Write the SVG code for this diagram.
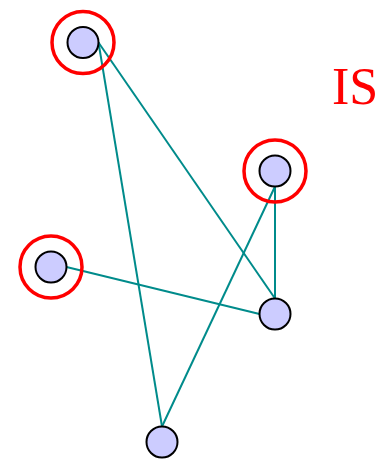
<svg xmlns="http://www.w3.org/2000/svg" width="385" height="460" viewBox="0 0 385 460">
<style>
.node{fill:#ccccff;stroke:#000;stroke-width:2}
.ring{fill:none;stroke:#ff0000;stroke-width:3.5}
.edge{stroke:#008b8b;stroke-width:2;fill:none}
.lbl{font-family:"Liberation Serif",serif;font-size:52px;fill:#ff0000}
</style>
<rect width="385" height="460" fill="#fff"/>
<g id="edges">
<line class="edge" x1="98.5" y1="42.5" x2="162" y2="426.5"/>
<line class="edge" x1="98.5" y1="42.5" x2="275" y2="298.5"/>
<line class="edge" x1="275" y1="186.5" x2="275" y2="298.5"/>
<line class="edge" x1="275" y1="186.5" x2="162" y2="426.5"/>
<line class="edge" x1="66.5" y1="267" x2="259.5" y2="314"/>
</g>
<g id="n1"><circle class="node" cx="83" cy="42.5" r="15.5"/><circle class="ring" cx="83" cy="42.5" r="31"/></g>
<g id="n2"><circle class="node" cx="275" cy="171" r="15.5"/><circle class="ring" cx="275" cy="171" r="31"/></g>
<g id="n3"><circle class="node" cx="51" cy="267" r="15.5"/><circle class="ring" cx="51" cy="267" r="31"/></g>
<g id="n4"><circle class="node" cx="275" cy="314" r="15.5"/></g>
<g id="n5"><circle class="node" cx="162" cy="442" r="15.5"/></g>
<text class="lbl" x="332" y="103.5">IS</text>
</svg>
